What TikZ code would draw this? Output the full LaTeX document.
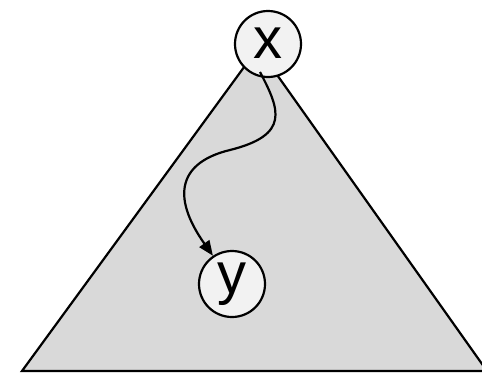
\documentclass[tikz,border=0pt]{standalone}
\usepackage{fontspec}
\setmainfont{Liberation Sans}
\usetikzlibrary{arrows.meta}
\definecolor{trifill}{HTML}{D9D9D9}
\definecolor{nodefill}{HTML}{F2F2F2}
\tikzset{
  vert/.style={circle, draw=black, fill=nodefill, line width=2.2pt, minimum size=66pt, inner sep=0pt,
    font=\fontsize{58}{58}\selectfont},
  edgeline/.style={line width=2.2pt, -{Triangle[length=15pt,width=12pt]}}
}
\begin{document}
\begin{tikzpicture}[x=1pt,y=-1pt]
\useasboundingbox (0,0) rectangle (482,375);
\draw[line width=2.2pt, fill=trifill, line join=miter] (258,48) -- (22,371) -- (487,371) -- cycle;
\node[vert] (x) at (268,44) {\raisebox{2pt}{x}};
\node[vert] (y) at (232,284) {\raisebox{2pt}{y}};
\coordinate (s) at (260,72);
\draw[edgeline] (s) .. controls (280,110) and (290,135) .. (230,150)
  .. controls (180,162) and (170,195) .. (y.124);
\end{tikzpicture}
\end{document}
